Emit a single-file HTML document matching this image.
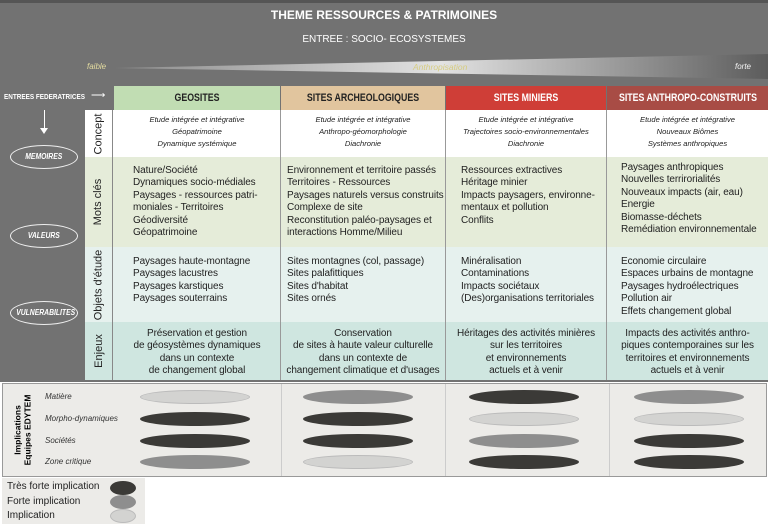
<!DOCTYPE html>
<html><head><meta charset="utf-8"><style>
*{margin:0;padding:0;box-sizing:border-box}
body{width:768px;height:531px;background:#fff;position:relative;overflow:hidden;font-family:"Liberation Sans",sans-serif}
.a{position:absolute}
.hdr{position:absolute;top:86px;height:24px;font-weight:bold;font-size:11px;line-height:24px;white-space:nowrap;overflow:hidden}
.hdr span{position:absolute;left:50%;transform:translateX(-50%) scaleX(0.8)}
.cc{position:absolute;top:112px;height:45px;font-style:italic;font-size:7.6px;text-align:center;line-height:12px;color:#222;padding-top:2px}
.t{position:absolute;font-size:10px;line-height:12.4px;color:#222;white-space:nowrap;letter-spacing:-0.1px}
.c{text-align:center}
.rl{position:absolute;left:85px;width:28px;display:flex;align-items:center;justify-content:center;border-right:1px solid #888}
.rl span{transform:rotate(-90deg);white-space:nowrap;font-size:11px;color:#222}
.ov{position:absolute;left:10px;width:68px;height:24px;border:1px solid #eee;border-radius:50%;color:#fff;font-size:8px;font-weight:bold;font-style:italic;text-align:center;line-height:22px;white-space:nowrap}
.ov span{display:inline-block;transform:scaleX(0.85)}
.e{position:absolute;width:110px;height:14px;border-radius:50%}
.d{background:#3b3a37}.m{background:#8e8e8e}.l{background:#d3d3d1;border:1px solid #bbb}
.lab{position:absolute;left:45px;font-size:8px;font-style:italic;color:#333;white-space:nowrap}
.vl{position:absolute;width:1px;background:#999}
</style></head><body>
<div class="a" style="left:0;top:0;width:768px;height:382px;background:#727272"></div>
<div class="a" style="left:0;top:0;width:768px;height:3px;background:#555"></div>
<div class="a" style="left:0;top:8px;width:768px;text-align:center;color:#fff;font-weight:bold;font-size:12px">THEME RESSOURCES &amp; PATRIMOINES</div>
<div class="a" style="left:0;top:34px;width:768px;text-align:center;color:#fff;font-size:10px">ENTREE : SOCIO- ECOSYSTEMES</div>
<svg class="a" style="left:0;top:0" width="768" height="90"><defs><linearGradient id="g" x1="0" x2="1"><stop offset="0" stop-color="#8a8a8a"/><stop offset="0.5" stop-color="#e2e2e2"/><stop offset="1" stop-color="#5c5c5c"/></linearGradient></defs><polygon points="115,68 768,54 768,79" fill="url(#g)"/></svg>
<div class="a" style="left:87px;top:62px;font-size:8px;font-style:italic;color:#e4dca0">faible</div>
<div class="a" style="left:413px;top:62px;font-size:8.5px;font-style:italic;color:#d6cc80">Anthropisation</div>
<div class="a" style="left:735px;top:62px;font-size:8px;font-style:italic;color:#f4f4f4">forte</div>
<div class="a" style="left:4px;top:92px;font-size:7.5px;font-weight:bold;color:#fff;white-space:nowrap;transform:scaleX(0.85);transform-origin:left">ENTREES FEDERATRICES</div>
<div class="a" style="left:91px;top:90px;font-size:10px;color:#fff">&#10230;</div>
<div class="a" style="left:44px;top:110px;width:1px;height:22px;background:#fff"></div>
<div class="a" style="left:40px;top:128px;width:0;height:0;border-left:4px solid transparent;border-right:4px solid transparent;border-top:6px solid #fff"></div>
<div class="ov" style="top:145px"><span>MEMOIRES</span></div>
<div class="ov" style="top:224px"><span>VALEURS</span></div>
<div class="ov" style="top:301px"><span>VULNERABILITES</span></div>
<div class="hdr" style="left:114px;width:166px;background:#c1ddb3;color:#222"><span>GEOSITES</span></div>
<div class="hdr" style="left:281px;width:164px;background:#e1c59e;color:#222"><span>SITES ARCHEOLOGIQUES</span></div>
<div class="hdr" style="left:446px;width:160px;background:#cf3e37;color:#fff"><span>SITES MINIERS</span></div>
<div class="hdr" style="left:607px;width:161px;background:#a84c45;color:#fff"><span>SITES ANTHROPO-CONSTRUITS</span></div>
<div class="a" style="left:85px;top:110px;width:683px;height:47px;background:#fff"></div>
<div class="a" style="left:85px;top:157px;width:683px;height:90px;background:#e5ecd9"></div>
<div class="a" style="left:85px;top:247px;width:683px;height:75px;background:#e6f1ee"></div>
<div class="a" style="left:85px;top:322px;width:683px;height:58px;background:#cfe6e0"></div>
<div class="vl" style="left:280px;top:110px;height:270px"></div>
<div class="vl" style="left:445px;top:110px;height:270px"></div>
<div class="vl" style="left:606px;top:110px;height:270px"></div>
<div class="rl" style="top:110px;height:47px"><span>Concept</span></div>
<div class="rl" style="top:157px;height:90px"><span>Mots clés</span></div>
<div class="rl" style="top:247px;height:75px"><span>Objets d'étude</span></div>
<div class="rl" style="top:322px;height:58px"><span>Enjeux</span></div>
<div class="cc" style="left:114px;width:166px">Etude intégrée et intégrative<br>Géopatrimoine<br>Dynamique systémique</div>
<div class="cc" style="left:281px;width:164px">Etude intégrée et intégrative<br>Anthropo-géomorphologie<br>Diachronie</div>
<div class="cc" style="left:446px;width:160px">Etude intégrée et intégrative<br>Trajectoires socio-environnementales<br>Diachronie</div>
<div class="cc" style="left:607px;width:161px">Etude intégrée et intégrative<br>Nouveaux Biômes<br>Systèmes anthropiques</div>
<div class="t" style="left:133px;top:165px">Nature/Société<br>Dynamiques socio-médiales<br>Paysages - ressources patri-<br>moniales - Territoires<br>Géodiversité<br>Géopatrimoine</div>
<div class="t" style="left:287px;top:165px">Environnement et territoire passés<br>Territoires - Ressources<br>Paysages naturels versus construits<br>Complexe de site<br>Reconstitution paléo-paysages et<br>interactions Homme/Milieu</div>
<div class="t" style="left:461px;top:165px">Ressources extractives<br>Héritage minier<br>Impacts paysagers, environne-<br>mentaux et pollution<br>Conflits</div>
<div class="t" style="left:621px;top:162px">Paysages anthropiques<br>Nouvelles terrirorialités<br>Nouveaux impacts (air, eau)<br>Energie<br>Biomasse-déchets<br>Remédiation environnementale</div>
<div class="t" style="left:133px;top:256px">Paysages haute-montagne<br>Paysages lacustres<br>Paysages karstiques<br>Paysages souterrains</div>
<div class="t" style="left:287px;top:256px">Sites montagnes (col, passage)<br>Sites palafittiques<br>Sites d'habitat<br>Sites ornés</div>
<div class="t" style="left:461px;top:256px">Minéralisation<br>Contaminations<br>Impacts sociétaux<br>(Des)organisations territoriales</div>
<div class="t" style="left:621px;top:256px">Economie circulaire<br>Espaces urbains de montagne<br>Paysages hydroélectriques<br>Pollution air<br>Effets changement global</div>
<div class="t c" style="left:114px;width:166px;top:328px">Préservation et gestion<br>de géosystèmes dynamiques<br>dans un contexte<br>de changement global</div>
<div class="t c" style="left:281px;width:164px;top:328px">Conservation<br>de sites à haute valeur culturelle<br>dans un contexte de<br>changement climatique et d'usages</div>
<div class="t c" style="left:446px;width:160px;top:328px">Héritages des activités minières<br>sur les territoires<br>et environnements<br>actuels et à venir</div>
<div class="t c" style="left:607px;width:161px;top:328px">Impacts des activités anthro-<br>piques contemporaines sur les<br>territoires et environnements<br>actuels et à venir</div>
<div class="a" style="left:2px;top:383px;width:765px;height:94px;background:#ecebe8;border:1px solid #999"></div>
<div class="vl" style="left:281px;top:384px;height:92px;background:#ccc"></div>
<div class="vl" style="left:445px;top:384px;height:92px;background:#ccc"></div>
<div class="vl" style="left:609px;top:384px;height:92px;background:#ccc"></div>
<div class="a" style="left:2px;top:383px;width:40px;height:94px;display:flex;align-items:center;justify-content:center"><div style="transform:rotate(-90deg);font-size:8.5px;font-weight:bold;text-align:center;line-height:10px;white-space:nowrap">Implications<br>Equipes EDYTEM</div></div>
<div class="lab" style="top:392px">Matière</div>
<div class="lab" style="top:414px">Morpho-dynamiques</div>
<div class="lab" style="top:436px">Sociétés</div>
<div class="lab" style="top:457px">Zone critique</div>
<div class="e l" style="left:140px;top:390px"></div><div class="e m" style="left:303px;top:390px"></div><div class="e d" style="left:469px;top:390px"></div><div class="e m" style="left:634px;top:390px"></div>
<div class="e d" style="left:140px;top:412px"></div><div class="e d" style="left:303px;top:412px"></div><div class="e l" style="left:469px;top:412px"></div><div class="e l" style="left:634px;top:412px"></div>
<div class="e d" style="left:140px;top:434px"></div><div class="e d" style="left:303px;top:434px"></div><div class="e m" style="left:469px;top:434px"></div><div class="e d" style="left:634px;top:434px"></div>
<div class="e m" style="left:140px;top:455px"></div><div class="e l" style="left:303px;top:455px"></div><div class="e d" style="left:469px;top:455px"></div><div class="e d" style="left:634px;top:455px"></div>
<div class="a" style="left:2px;top:478px;width:143px;height:46px;background:#ecebe8"></div>
<div class="a" style="left:7px;top:480px;font-size:10px;line-height:14.5px;color:#222;white-space:nowrap">Très forte implication<br>Forte implication<br>Implication</div>
<div class="a" style="left:110px;top:481px;width:26px;height:14px;border-radius:50%;background:#3b3a37"></div>
<div class="a" style="left:110px;top:495px;width:26px;height:14px;border-radius:50%;background:#8e8e8e"></div>
<div class="a" style="left:110px;top:509px;width:26px;height:14px;border-radius:50%;background:#d3d3d1;border:1px solid #bbb"></div>
</body></html>
